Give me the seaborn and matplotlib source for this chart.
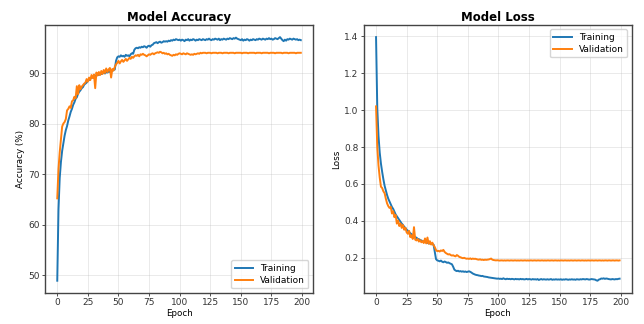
import numpy as np
import pandas as pd
import seaborn as sns
import matplotlib.pyplot as plt

# per-epoch history
train_acc = [
    48.9, 63.0, 69.2, 72.4, 74.6, 76.1, 77.6, 78.7, 79.5, 80.6,
    81.4, 82.3, 82.9, 83.7, 84.2, 84.9, 85.2, 85.9, 86.3, 86.6,
    87.0, 87.2, 87.7, 87.9, 88.1, 88.5, 88.6, 88.9, 89.1, 89.2,
    89.4, 89.3, 89.6, 89.7, 89.6, 89.9, 89.8, 90.0, 90.1, 89.9,
    90.2, 90.1, 90.3, 90.2, 90.5, 90.4, 90.6, 90.7, 92.4, 93.1,
    93.3, 93.2, 93.5, 93.3, 93.4, 93.2, 93.6, 93.4, 93.5, 93.3,
    93.7, 93.9, 93.8, 94.6, 94.9, 95.0, 94.9, 95.1, 95.0, 95.2,
    95.1, 95.3, 95.2, 95.0, 95.3, 95.4, 95.2, 95.5, 95.6, 95.9,
    96.0, 96.1, 95.9, 96.1, 96.2, 96.0, 96.1, 96.3, 96.2, 96.3,
    96.2, 96.4, 96.3, 96.5, 96.4, 96.6, 96.5, 96.7, 96.6, 96.5,
    96.6, 96.4, 96.6, 96.5, 96.3, 96.6, 96.5, 96.7, 96.4, 96.6,
    96.5, 96.7, 96.6, 96.4, 96.6, 96.5, 96.7, 96.6, 96.5, 96.7,
    96.6, 96.5, 96.7, 96.6, 96.8, 96.6, 96.5, 96.7, 96.6, 96.8,
    96.7, 96.6, 96.8, 96.5, 96.7, 96.6, 96.8, 96.7, 96.6, 96.8,
    96.7, 96.9, 96.8, 96.7, 96.9, 96.8, 97.0, 96.8, 96.7, 96.6,
    96.5, 96.7, 96.4, 96.6, 96.5, 96.7, 96.6, 96.4, 96.6, 96.5,
    96.7, 96.6, 96.5, 96.7, 96.6, 96.8, 96.7, 96.6, 96.8, 96.7,
    96.6, 96.8, 96.7, 96.9, 96.7, 96.8, 96.6, 96.7, 96.9, 96.8,
    96.7, 96.9, 97.1, 96.8, 96.5, 96.3, 96.6, 96.4, 96.7, 96.6,
    96.8, 96.7, 96.6, 96.8, 96.7, 96.6, 96.7, 96.5, 96.6, 96.5,
]
val_acc = [
    65.2, 71.0, 74.3, 76.8, 79.4, 80.0, 80.3, 80.9, 82.6, 82.9,
    83.4, 83.1, 84.4, 84.6, 85.3, 85.0, 87.4, 85.8, 87.6, 86.8,
    87.3, 87.6, 87.9, 88.1, 88.8, 88.3, 89.1, 88.6, 89.6, 89.0,
    89.7, 87.0, 90.1, 89.5, 90.2, 89.6, 90.4, 89.8, 90.6, 90.0,
    90.9, 90.2, 90.7, 91.0, 89.1, 90.8, 90.5, 91.2, 91.7, 92.0,
    92.4, 91.9, 92.3, 92.6, 92.2, 92.5, 92.8, 92.4, 92.7, 93.0,
    92.8, 93.2, 93.0, 93.3, 93.5, 93.4, 93.6, 93.3, 93.7, 93.6,
    93.8, 93.6, 93.5, 93.3, 93.5, 93.7, 93.6, 93.8, 93.9, 93.7,
    93.9, 94.0, 94.1, 94.0, 94.2, 94.1, 93.9, 94.0, 93.8, 93.9,
    93.7, 93.8, 93.6, 93.5, 93.4, 93.6, 93.5, 93.7, 93.6, 93.8,
    93.9, 93.8, 93.7, 93.9, 93.8, 93.7, 93.9, 93.8, 93.7, 93.6,
    93.7, 93.6, 93.8, 93.7, 93.8, 93.9, 93.8, 94.0, 93.9, 94.0,
    94.0, 94.0, 93.9, 94.0, 94.0, 94.0, 93.9, 94.0, 94.0, 94.0,
    94.0, 93.9, 94.0, 94.0, 94.0, 93.9, 94.0, 94.0, 94.0, 94.0,
    93.9, 94.0, 94.0, 94.0, 94.0, 93.9, 94.0, 94.0, 94.0, 94.0,
    94.0, 93.9, 94.0, 94.0, 94.0, 94.0, 93.9, 94.0, 94.0, 94.0,
    94.0, 94.0, 93.9, 94.0, 94.0, 94.0, 94.0, 93.9, 94.0, 94.0,
    94.0, 94.0, 94.0, 93.9, 94.0, 94.0, 94.0, 94.0, 93.9, 94.0,
    94.0, 94.0, 94.0, 94.0, 93.9, 94.0, 94.0, 94.0, 94.0, 93.9,
    94.0, 94.0, 94.0, 94.0, 94.0, 93.9, 94.0, 94.0, 94.0, 94.0,
]
train_loss = [
    1.395, 1.01, 0.86, 0.77, 0.71, 0.665, 0.625, 0.59, 0.565, 0.54,
    0.52, 0.505, 0.49, 0.475, 0.465, 0.45, 0.435, 0.425, 0.415, 0.405,
    0.395, 0.385, 0.378, 0.368, 0.362, 0.352, 0.347, 0.34, 0.333, 0.328,
    0.322, 0.318, 0.312, 0.309, 0.303, 0.301, 0.297, 0.294, 0.291, 0.288,
    0.286, 0.283, 0.281, 0.279, 0.277, 0.275, 0.274, 0.271, 0.232, 0.193,
    0.186, 0.184, 0.181, 0.185, 0.179, 0.176, 0.18, 0.177, 0.173, 0.175,
    0.171, 0.168, 0.165, 0.152, 0.136, 0.131, 0.128, 0.13, 0.126, 0.128,
    0.125, 0.127, 0.124, 0.126, 0.123, 0.125, 0.127, 0.124, 0.12, 0.115,
    0.112, 0.109, 0.107, 0.106, 0.104, 0.103, 0.101, 0.102, 0.099, 0.098,
    0.097, 0.096, 0.094, 0.093, 0.092, 0.091, 0.09, 0.089, 0.088, 0.087,
    0.088, 0.086, 0.087, 0.085, 0.089, 0.086, 0.084, 0.087, 0.085, 0.086,
    0.084, 0.086, 0.085, 0.083, 0.086, 0.084, 0.085, 0.083, 0.086, 0.084,
    0.085, 0.083, 0.084, 0.086, 0.083, 0.085, 0.084, 0.082, 0.085, 0.083,
    0.084, 0.082, 0.085, 0.08, 0.083, 0.085, 0.082, 0.084, 0.083, 0.082,
    0.084, 0.082, 0.083, 0.085, 0.081, 0.083, 0.082, 0.084, 0.082, 0.083,
    0.082, 0.084, 0.081, 0.083, 0.082, 0.084, 0.083, 0.081, 0.083, 0.082,
    0.084, 0.082, 0.083, 0.081, 0.084, 0.083, 0.082, 0.084, 0.083, 0.085,
    0.084, 0.083, 0.085, 0.084, 0.082, 0.083, 0.085, 0.084, 0.083, 0.082,
    0.078, 0.076, 0.082, 0.084, 0.088, 0.087, 0.089, 0.086, 0.088, 0.087,
    0.085, 0.084, 0.083, 0.085, 0.084, 0.083, 0.085, 0.084, 0.086, 0.087,
]
val_loss = [
    1.02, 0.80, 0.70, 0.635, 0.585, 0.578, 0.56, 0.55, 0.52, 0.495,
    0.48, 0.47, 0.476, 0.44, 0.452, 0.42, 0.432, 0.385, 0.402, 0.372,
    0.386, 0.362, 0.378, 0.352, 0.362, 0.338, 0.33, 0.346, 0.312, 0.322,
    0.302, 0.366, 0.298, 0.294, 0.302, 0.288, 0.296, 0.284, 0.291, 0.28,
    0.305, 0.278, 0.31, 0.276, 0.29, 0.272, 0.282, 0.268, 0.258, 0.242,
    0.236, 0.238, 0.234, 0.24, 0.237, 0.243, 0.232, 0.226, 0.222, 0.218,
    0.22, 0.215, 0.212, 0.214, 0.21, 0.208, 0.215, 0.211, 0.205, 0.203,
    0.2, 0.198, 0.2, 0.197, 0.195, 0.196, 0.194, 0.197, 0.193, 0.196,
    0.194, 0.195, 0.193, 0.191, 0.19, 0.192, 0.189, 0.19, 0.188, 0.19,
    0.189, 0.19, 0.191, 0.193, 0.196, 0.19, 0.188, 0.187, 0.186, 0.187,
    0.186, 0.185, 0.186, 0.186, 0.185, 0.186, 0.185, 0.186, 0.186, 0.185,
    0.186, 0.186, 0.185, 0.186, 0.186, 0.185, 0.186, 0.185, 0.186, 0.186,
    0.185, 0.186, 0.186, 0.185, 0.186, 0.185, 0.186, 0.186, 0.185, 0.186,
    0.186, 0.185, 0.186, 0.186, 0.185, 0.186, 0.186, 0.185, 0.186, 0.185,
    0.186, 0.186, 0.185, 0.186, 0.186, 0.185, 0.186, 0.186, 0.185, 0.186,
    0.185, 0.186, 0.186, 0.185, 0.186, 0.186, 0.185, 0.186, 0.185, 0.186,
    0.186, 0.185, 0.186, 0.186, 0.185, 0.186, 0.186, 0.185, 0.186, 0.186,
    0.185, 0.186, 0.185, 0.186, 0.186, 0.185, 0.186, 0.186, 0.185, 0.186,
    0.186, 0.185, 0.186, 0.186, 0.185, 0.186, 0.185, 0.186, 0.186, 0.185,
    0.186, 0.186, 0.185, 0.186, 0.186, 0.185, 0.186, 0.186, 0.185, 0.186,
]
epochs = np.arange(len(train_acc))

fig, (ax1, ax2) = plt.subplots(1, 2, figsize=(6.44, 3.24), dpi=100)
fig.subplots_adjust(left=0.070, right=0.981, bottom=0.096, top=0.923, wspace=0.19)

def draw(ax, train, val, title, ylabel, loc):
    sns.lineplot(x=epochs, y=train, ax=ax, label='Training', color='tab:blue', linewidth=1.4)
    sns.lineplot(x=epochs, y=val, ax=ax, label='Validation', color='tab:orange', linewidth=1.4)
    ax.set_title(title, fontsize=8.5, fontweight='bold', pad=3)
    ax.set_xlabel('Epoch', fontsize=6.3, labelpad=1)
    ax.set_ylabel(ylabel, fontsize=6.3, labelpad=2)
    ax.tick_params(labelsize=6.5, length=2.5, width=0.6, pad=1.5, colors='#333333')
    ax.grid(True, alpha=0.3, linewidth=0.6)
    ax.set_xticks([0, 25, 50, 75, 100, 125, 150, 175, 200])
    for s in ax.spines.values():
        s.set_color('#444444')
        s.set_linewidth(1.0)
    ax.legend(loc=loc, fontsize=6.5, handlelength=2, borderpad=0.4, labelspacing=0.3)

draw(ax1, train_acc, val_acc, 'Model Accuracy', 'Accuracy (%)', 'lower right')
draw(ax2, train_loss, val_loss, 'Model Loss', 'Loss', 'upper right')

fig.savefig('out.png', dpi=100)
